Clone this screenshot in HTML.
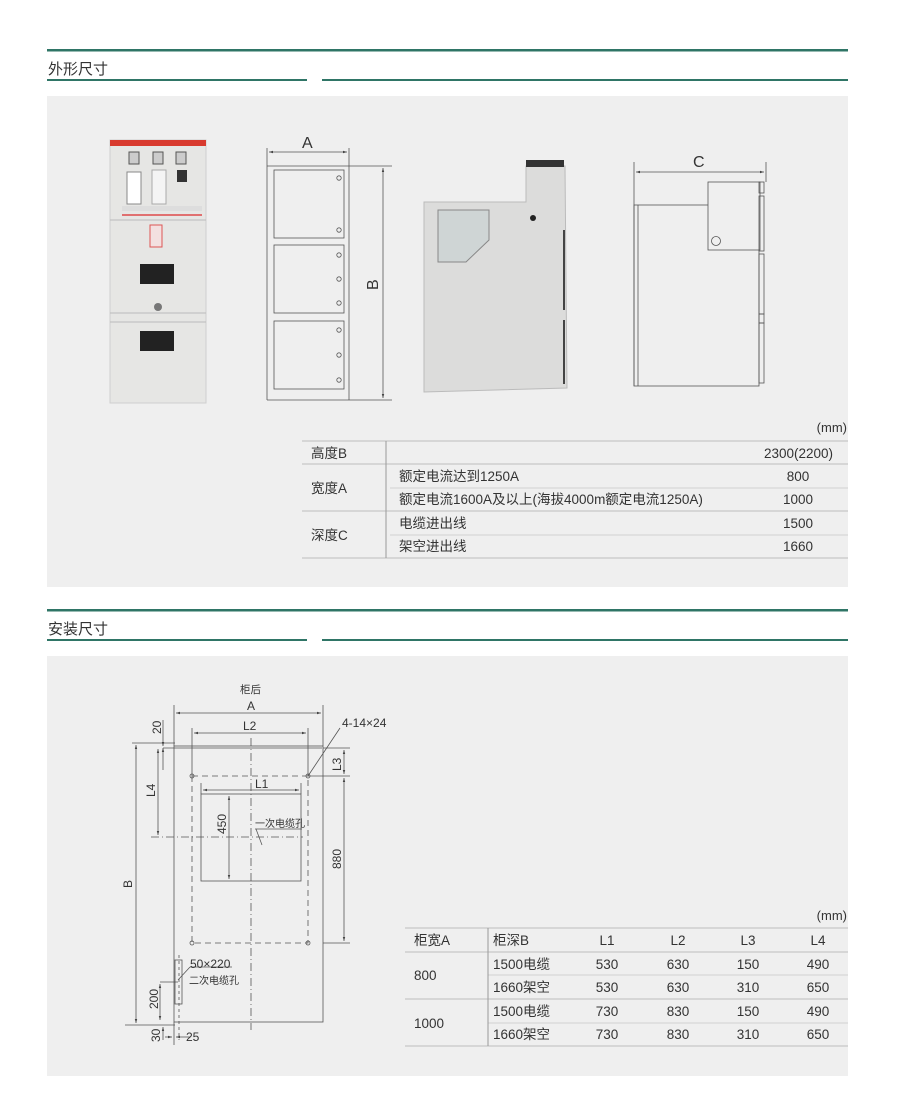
<!DOCTYPE html>
<html><head><meta charset="utf-8"><style>
html,body{margin:0;padding:0;background:#fff;}
svg{display:block;}
text{font-family:"Liberation Sans","Noto Sans CJK SC",sans-serif;fill:#333;}
</style></head><body>
<svg width="900" height="1119" viewBox="0 0 900 1119" xmlns="http://www.w3.org/2000/svg">
<defs>
<marker id="ar" viewBox="0 0 10 10" refX="10" refY="5" markerWidth="7" markerHeight="5" orient="auto-start-reverse"><path d="M0,2 L10,5 L0,8 z" fill="#444"/></marker>
</defs>
<rect x="47" y="49" width="801" height="2.5" fill="#2f7566"/>
<text x="48" y="74" font-size="15" fill="#222">外形尺寸</text>
<rect x="47" y="79" width="260" height="2" fill="#2f7566"/>
<rect x="322" y="79" width="526" height="2" fill="#2f7566"/>
<rect x="47" y="96" width="801" height="491" fill="#efefef"/>

<rect x="110" y="140" width="96" height="263" fill="#e6e6e4" stroke="#cfcfcf"/>
<rect x="110" y="140" width="96" height="6" fill="#d83a2e"/>
<rect x="129" y="152" width="10" height="12" fill="#ccc" stroke="#555"/>
<rect x="153" y="152" width="10" height="12" fill="#ccc" stroke="#555"/>
<rect x="176" y="152" width="10" height="12" fill="#ccc" stroke="#555"/>
<rect x="127" y="172" width="14" height="32" fill="#fff" stroke="#888"/>
<rect x="152" y="170" width="14" height="34" fill="#f4f4f4" stroke="#aaa"/>
<rect x="177" y="170" width="10" height="12" fill="#333"/>
<rect x="122" y="206" width="80" height="5" fill="#ddd"/>
<rect x="122" y="214" width="80" height="2" fill="#e07070"/>
<line x1="110" y1="220" x2="206" y2="220" stroke="#bbb"/>
<rect x="150" y="225" width="12" height="22" fill="#f3e0e0" stroke="#d55"/>
<rect x="140" y="264" width="34" height="20" fill="#222"/>
<circle cx="158" cy="307" r="4" fill="#777"/>
<line x1="110" y1="313" x2="206" y2="313" stroke="#bbb"/>
<line x1="110" y1="322" x2="206" y2="322" stroke="#bbb"/>
<rect x="140" y="331" width="34" height="20" fill="#222"/>

<g stroke="#555" fill="none" stroke-width="0.8">
<line x1="267" y1="148" x2="267" y2="400"/>
<line x1="349" y1="148" x2="349" y2="400"/>
<line x1="267" y1="166" x2="392" y2="166"/>
<line x1="267" y1="400" x2="392" y2="400"/>
<line x1="269" y1="152" x2="347" y2="152" marker-start="url(#ar)" marker-end="url(#ar)"/>
<line x1="383" y1="168" x2="383" y2="398" marker-start="url(#ar)" marker-end="url(#ar)"/>
<rect x="274" y="170" width="70" height="68"/>
<rect x="274" y="245" width="70" height="68"/>
<rect x="274" y="321" width="70" height="68"/>
<circle cx="339" cy="178" r="2.2"/><circle cx="339" cy="230" r="2.2"/>
<circle cx="339" cy="255" r="2.2"/><circle cx="339" cy="279" r="2.2"/><circle cx="339" cy="303" r="2.2"/>
<circle cx="339" cy="330" r="2.2"/><circle cx="339" cy="355" r="2.2"/><circle cx="339" cy="380" r="2.2"/>
</g>
<text x="302" y="148" font-size="16">A</text>
<text x="0" y="0" font-size="16" transform="translate(378,290) rotate(-90)">B</text>

<path d="M424,202 L526,202 L526,166 L565,166 L567,388 L424,392 Z" fill="#dcdcdb" stroke="#bbb"/>
<rect x="526" y="160" width="38" height="7" fill="#333"/>
<path d="M438,210 L489,210 L489,240 L466,262 L438,262 Z" fill="#cfd5d5" stroke="#888"/>
<circle cx="533" cy="218" r="3" fill="#222"/>
<line x1="564" y1="230" x2="564" y2="310" stroke="#444" stroke-width="2"/>
<line x1="564" y1="320" x2="564" y2="384" stroke="#444" stroke-width="2"/>

<g stroke="#555" fill="none" stroke-width="0.8">
<line x1="634" y1="162" x2="634" y2="386"/>
<line x1="766" y1="162" x2="766" y2="182"/>
<line x1="636" y1="172" x2="764" y2="172" marker-start="url(#ar)" marker-end="url(#ar)"/>
<rect x="634" y="205" width="125" height="181"/>
<line x1="638" y1="205" x2="638" y2="386"/>
<rect x="708" y="182" width="52" height="68" fill="#efefef"/>
<circle cx="716" cy="241" r="4.5"/>
<rect x="759" y="182" width="5" height="11"/><rect x="759" y="196" width="5" height="55"/>
<rect x="759" y="254" width="5" height="60"/><rect x="759" y="314" width="5" height="9"/><rect x="759" y="323" width="5" height="60"/>
</g>
<text x="693" y="167" font-size="16">C</text>

<text x="847" y="432" font-size="13" text-anchor="end">(mm)</text>
<g stroke="#bdbdbd" stroke-width="1">
<line x1="302" y1="441" x2="848" y2="441"/>
<line x1="302" y1="464" x2="848" y2="464"/>
<line x1="390" y1="488" x2="848" y2="488" stroke="#d0d0d0"/>
<line x1="302" y1="511" x2="848" y2="511"/>
<line x1="390" y1="535" x2="848" y2="535" stroke="#d0d0d0"/>
<line x1="302" y1="558" x2="848" y2="558"/>
<line x1="386" y1="441" x2="386" y2="558" stroke="#999"/>
</g>
<g font-size="13.5">
<text x="311" y="458">高度B</text>
<text x="833" y="458" text-anchor="end">2300(2200)</text>
<text x="311" y="493">宽度A</text>
<text x="399" y="481">额定电流达到1250A</text>
<text x="798" y="481" text-anchor="middle">800</text>
<text x="399" y="504">额定电流1600A及以上(海拔4000m额定电流1250A)</text>
<text x="798" y="504" text-anchor="middle">1000</text>
<text x="311" y="540">深度C</text>
<text x="399" y="528">电缆进出线</text>
<text x="798" y="528" text-anchor="middle">1500</text>
<text x="399" y="551">架空进出线</text>
<text x="798" y="551" text-anchor="middle">1660</text>
</g>

<rect x="47" y="609" width="801" height="2.5" fill="#2f7566"/>
<text x="48" y="634" font-size="15" fill="#222">安装尺寸</text>
<rect x="47" y="639" width="260" height="2" fill="#2f7566"/>
<rect x="322" y="639" width="526" height="2" fill="#2f7566"/>
<rect x="47" y="656" width="801" height="420" fill="#efefef"/>

<g stroke="#555" fill="none" stroke-width="0.8">
<rect x="174" y="746" width="149" height="276"/>
<line x1="163" y1="748" x2="322" y2="748"/>
<line x1="174" y1="705" x2="174" y2="746"/>
<line x1="323" y1="705" x2="323" y2="746"/>
<line x1="176" y1="713" x2="321" y2="713" marker-start="url(#ar)" marker-end="url(#ar)"/>
<line x1="192" y1="728" x2="192" y2="776"/>
<line x1="308" y1="728" x2="308" y2="776"/>
<line x1="194" y1="733" x2="306" y2="733" marker-start="url(#ar)" marker-end="url(#ar)"/>
<rect x="192" y="776" width="116" height="167" stroke-dasharray="6,4"/>
<circle cx="192" cy="776" r="2"/><circle cx="308" cy="776" r="2"/><circle cx="192" cy="943" r="2"/><circle cx="308" cy="943" r="2"/>
<line x1="201" y1="783" x2="201" y2="794"/><line x1="301" y1="783" x2="301" y2="794"/>
<line x1="203" y1="790" x2="299" y2="790" marker-start="url(#ar)" marker-end="url(#ar)"/>
<rect x="201" y="794" width="100" height="87"/>
<line x1="229" y1="796" x2="229" y2="879" marker-start="url(#ar)" marker-end="url(#ar)"/>
<line x1="251" y1="738" x2="251" y2="1030" stroke-dasharray="8,3,1,3"/>
<line x1="151" y1="837" x2="303" y2="837" stroke-dasharray="8,3,1,3"/>
<line x1="255" y1="829" x2="302" y2="829"/><line x1="256" y1="829" x2="262" y2="845"/>
<line x1="132" y1="743" x2="175" y2="743"/>
<line x1="125" y1="1025" x2="175" y2="1025"/>
<line x1="136" y1="745" x2="136" y2="1023" marker-start="url(#ar)" marker-end="url(#ar)"/>
<line x1="158" y1="749" x2="158" y2="835" marker-start="url(#ar)" marker-end="url(#ar)"/>
<line x1="163" y1="720" x2="163" y2="746" marker-end="url(#ar)"/>
<line x1="163" y1="748" x2="163" y2="770" marker-start="url(#ar)"/>
<line x1="323" y1="748" x2="350" y2="748"/>
<line x1="308" y1="776" x2="350" y2="776"/>
<line x1="323" y1="943" x2="350" y2="943"/>
<line x1="344" y1="750" x2="344" y2="774" marker-start="url(#ar)" marker-end="url(#ar)"/>
<line x1="344" y1="778" x2="344" y2="941" marker-start="url(#ar)" marker-end="url(#ar)"/>
<line x1="308" y1="776" x2="340" y2="728"/>
<rect x="175" y="960" width="7" height="44"/>
<line x1="179" y1="955" x2="179" y2="1040" stroke-dasharray="3,3"/>
<line x1="160" y1="982" x2="178" y2="982"/>
<line x1="178" y1="980" x2="190" y2="967"/><line x1="190" y1="967" x2="232" y2="967"/>
<line x1="160" y1="984" x2="160" y2="1020" marker-start="url(#ar)" marker-end="url(#ar)"/>
<line x1="163" y1="1027" x2="163" y2="1040" marker-start="url(#ar)"/>
<line x1="174" y1="1022" x2="174" y2="1045"/>
<line x1="165" y1="1037" x2="172" y2="1037" marker-end="url(#ar)"/>
<line x1="176" y1="1037" x2="190" y2="1037" marker-start="url(#ar)"/>
</g>
<g font-size="12">
<text x="240" y="693" font-size="10.5">柜后</text>
<text x="247" y="710">A</text>
<text x="243" y="730">L2</text>
<text x="255" y="788">L1</text>
<text x="342" y="727">4-14×24</text>
<text x="255" y="827" font-size="10">一次电缆孔</text>
<text x="190" y="968">50×220</text>
<text x="189" y="984" font-size="10">二次电缆孔</text>
<text x="186" y="1041">25</text>
<text transform="translate(161,734) rotate(-90)">20</text>
<text transform="translate(155,797) rotate(-90)">L4</text>
<text transform="translate(132,888) rotate(-90)">B</text>
<text transform="translate(226,834) rotate(-90)">450</text>
<text transform="translate(341,771) rotate(-90)">L3</text>
<text transform="translate(341,869) rotate(-90)">880</text>
<text transform="translate(158,1009) rotate(-90)">200</text>
<text transform="translate(160,1042) rotate(-90)">30</text>
</g>

<text x="847" y="920" font-size="13" text-anchor="end">(mm)</text>
<g stroke="#bdbdbd">
<line x1="405" y1="928" x2="848" y2="928"/>
<line x1="405" y1="952" x2="848" y2="952"/>
<line x1="488" y1="975" x2="848" y2="975" stroke="#d0d0d0"/>
<line x1="405" y1="999" x2="848" y2="999"/>
<line x1="488" y1="1023" x2="848" y2="1023" stroke="#d0d0d0"/>
<line x1="405" y1="1046" x2="848" y2="1046"/>
<line x1="488" y1="928" x2="488" y2="1046" stroke="#999"/>
</g>
<g font-size="13.5">
<text x="414" y="945">柜宽A</text><text x="493" y="945">柜深B</text>
<text x="607" y="945" text-anchor="middle">L1</text><text x="678" y="945" text-anchor="middle">L2</text>
<text x="748" y="945" text-anchor="middle">L3</text><text x="818" y="945" text-anchor="middle">L4</text>
<text x="414" y="980">800</text>
<text x="493" y="969">1500电缆</text><text x="607" y="969" text-anchor="middle">530</text><text x="678" y="969" text-anchor="middle">630</text><text x="748" y="969" text-anchor="middle">150</text><text x="818" y="969" text-anchor="middle">490</text>
<text x="493" y="992">1660架空</text><text x="607" y="992" text-anchor="middle">530</text><text x="678" y="992" text-anchor="middle">630</text><text x="748" y="992" text-anchor="middle">310</text><text x="818" y="992" text-anchor="middle">650</text>
<text x="414" y="1028">1000</text>
<text x="493" y="1016">1500电缆</text><text x="607" y="1016" text-anchor="middle">730</text><text x="678" y="1016" text-anchor="middle">830</text><text x="748" y="1016" text-anchor="middle">150</text><text x="818" y="1016" text-anchor="middle">490</text>
<text x="493" y="1039">1660架空</text><text x="607" y="1039" text-anchor="middle">730</text><text x="678" y="1039" text-anchor="middle">830</text><text x="748" y="1039" text-anchor="middle">310</text><text x="818" y="1039" text-anchor="middle">650</text>
</g>
</svg>
</body></html>
